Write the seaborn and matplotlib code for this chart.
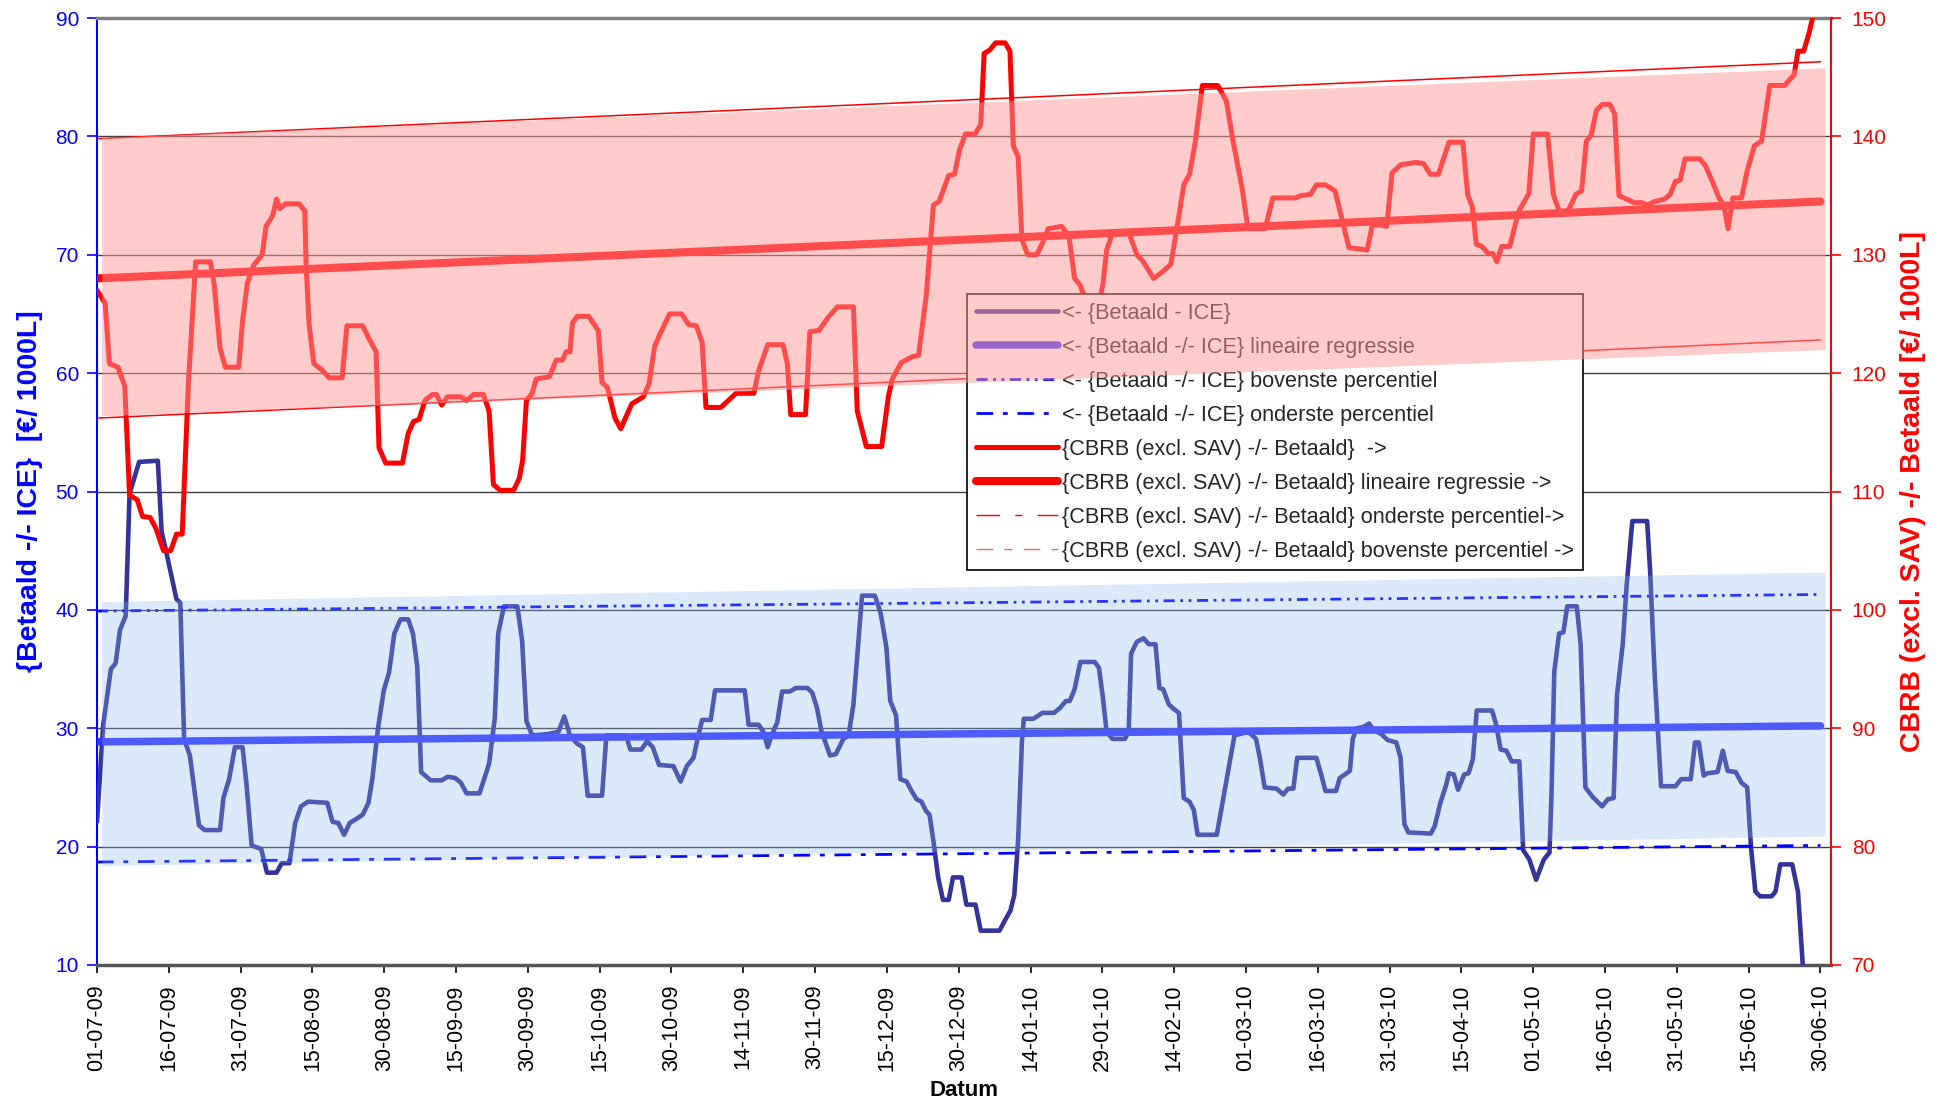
import matplotlib
matplotlib.use("Agg")
import matplotlib.pyplot as plt
from matplotlib.lines import Line2D
import seaborn as sns

# --------------------------------------------------------------
# Data (x = dag-index vanaf 01-07-09)
# --------------------------------------------------------------

tick_labels = [
    "01-07-09", "16-07-09", "31-07-09", "15-08-09", "30-08-09", "15-09-09",
    "30-09-09", "15-10-09", "30-10-09", "14-11-09", "30-11-09", "15-12-09",
    "30-12-09", "14-01-10", "29-01-10", "14-02-10", "01-03-10", "16-03-10",
    "31-03-10", "15-04-10", "01-05-10", "16-05-10", "31-05-10", "15-06-10",
    "30-06-10",
]

# {Betaald - ICE}  (linker as)
ice_dag = [
    0, 1.3, 2.9, 3.9, 4.8, 6.0, 6.8, 8.8, 12.7, 13.5, 14.3, 16.6, 17.4, 18.2,
    19.4, 21.3, 22.5, 25.7, 26.4, 27.6, 28.8, 30.4, 31.2, 32.3, 34.3, 35.5,
    37.5, 38.6, 40.2, 41.4, 42.6, 44.1, 48.1, 49.2, 50.4, 51.6, 52.8, 54.4,
    55.5, 56.7, 57.5, 58.7, 59.9, 61.0, 62.1, 63.4, 65.0, 66.0, 66.9, 67.7,
    69.7, 72.0, 73.2, 74.8, 76.0, 77.2, 79.9, 81.9, 83.1, 83.8, 85.0, 87.8,
    88.8, 89.7, 90.9, 94.1, 96.4, 97.6, 98.8, 100.3, 101.5, 102.5, 105.5,
    106.4, 110.5, 111.4, 113.7, 114.9, 116.1, 117.4, 120.4, 121.9, 123.2,
    124.6, 125.6, 126.4, 128.2, 129.1, 135.3, 136.1, 138.2, 139.2, 140.1,
    140.9, 142.1, 143.1, 144.7, 146.0, 148.4, 149.4, 150.4, 151.3, 153.1,
    154.3, 155.9, 157.0, 158.0, 159.0, 159.8, 162.5, 163.7, 164.9, 165.7,
    166.9, 167.8, 169.1, 170.0, 171.2, 172.2, 173.2, 173.9, 174.7, 175.7,
    176.7, 177.9, 178.8, 180.6, 181.6, 183.5, 184.6, 188.5, 189.7, 190.8,
    191.6, 192.4, 193.2, 193.6, 195.6, 197.5, 199.9, 201.1, 202.4, 203.2,
    204.2, 205.4, 208.4, 209.3, 210.1, 210.9, 212.1, 214.7, 215.5, 216.0,
    217.2, 218.6, 219.7, 221.1, 221.9, 222.7, 223.9, 224.7, 226.0, 227.0,
    228.2, 229.1, 229.9, 233.9, 235.7, 237.6, 240.5, 242.1, 242.9, 243.9,
    246.4, 247.8, 248.8, 249.9, 250.7, 254.7, 255.7, 256.6, 258.8, 259.6,
    260.7, 261.7, 262.3, 263.1, 264.5, 265.7, 266.8, 268.3, 269.6, 271.4,
    272.3, 273.1, 273.9, 278.6, 279.4, 280.6, 281.8, 282.4, 283.4, 284.3,
    285.6, 286.5, 287.4, 288.2, 291.4, 292.2, 293.2, 294.4, 295.5, 297.1,
    297.9, 299.2, 300.6, 302.2, 303.4, 303.8, 304.4, 305.4, 306.3, 307.1,
    309.1, 309.9, 310.9, 312.4, 314.4, 315.6, 316.8, 317.5, 318.7, 319.5,
    320.7, 323.8, 324.4, 325.4, 326.7, 329.7, 330.9, 332.9, 333.8, 334.6,
    335.6, 336.4, 338.5, 339.6, 340.6, 342.3, 343.5, 344.7, 345.5, 346.4,
    347.4, 349.8, 350.6, 351.6, 354.1, 355.3, 356.3, 357.0,
]
ice_waarde = [
    22.1, 30.3, 35.0, 35.5, 38.3, 39.5, 49.8, 52.5, 52.6, 46.6, 45.2, 40.9,
    40.6, 29.1, 27.7, 21.8, 21.4, 21.4, 24.1, 25.7, 28.4, 28.4, 25.4, 20.1,
    19.8, 17.8, 17.8, 18.6, 18.6, 22.0, 23.4, 23.8, 23.7, 22.1, 22.0, 21.0,
    22.0, 22.4, 22.7, 23.7, 25.7, 30.0, 33.2, 34.7, 38.0, 39.2, 39.2, 38.0,
    35.2, 26.3, 25.6, 25.6, 25.9, 25.8, 25.4, 24.5, 24.5, 27.0, 30.9, 38.0,
    40.3, 40.3, 37.4, 30.6, 29.4, 29.5, 29.7, 31.0, 29.4, 28.7, 28.4, 24.3,
    24.3, 29.4, 29.4, 28.2, 28.2, 28.9, 28.4, 26.9, 26.8, 25.5, 26.8, 27.5,
    29.4, 30.7, 30.7, 33.2, 33.2, 30.3, 30.3, 29.7, 28.4, 29.4, 30.5, 33.1,
    33.1, 33.4, 33.4, 33.0, 31.7, 29.8, 27.7, 27.8, 29.1, 29.4, 32.0, 37.1,
    41.2, 41.2, 39.7, 36.8, 32.3, 31.1, 25.7, 25.5, 24.8, 24.0, 23.8, 23.0,
    22.7, 20.5, 17.4, 15.5, 15.5, 17.4, 17.4, 15.1, 15.1, 12.9, 12.9, 13.8,
    14.6, 15.9, 20.5, 28.9, 30.8, 30.8, 31.3, 31.3, 31.7, 32.3, 32.3, 33.3,
    35.6, 35.6, 35.1, 32.6, 29.7, 29.1, 29.1, 29.7, 36.3, 37.3, 37.6, 37.1,
    37.1, 33.4, 33.3, 32.0, 31.7, 31.3, 24.1, 23.8, 23.1, 21.0, 21.0, 25.1,
    29.4, 29.7, 29.1, 27.5, 25.0, 24.9, 24.4, 24.9, 24.9, 27.5, 27.5, 26.1,
    24.7, 24.7, 25.8, 26.1, 26.4, 29.1, 30.0, 30.1, 30.4, 29.8, 29.5, 29.0,
    28.8, 27.5, 21.9, 21.2, 21.1, 21.7, 23.7, 25.2, 26.2, 26.1, 24.8, 26.1,
    26.2, 27.4, 31.5, 31.5, 30.4, 28.2, 28.1, 27.2, 27.2, 19.7, 18.9, 17.2,
    18.9, 19.5, 24.2, 34.8, 38.0, 38.1, 40.3, 40.3, 37.1, 25.0, 24.2, 23.4,
    24.0, 24.1, 32.8, 37.1, 42.0, 47.5, 47.5, 43.4, 34.3, 25.1, 25.1, 25.7,
    25.7, 28.8, 28.8, 26.0, 26.2, 26.3, 28.1, 26.4, 26.3, 25.4, 25.0, 19.9,
    16.2, 15.8, 15.8, 16.2, 18.5, 18.5, 16.2, 10.0, 7.0,
]

# {CBRB (excl. SAV) -/- Betaald}  (rechter as)
cbrb_dag = [
    0, 1.7, 2.6, 4.4, 5.8, 6.8, 8.4, 9.5, 11.1, 12.3, 13.9, 15.4, 16.6, 17.8,
    19.1, 20.6, 23.7, 24.5, 25.7, 26.8, 29.6, 30.4, 31.4, 32.7, 34.5, 35.3,
    36.7, 37.5, 38.2, 39.4, 42.2, 43.4, 43.7, 44.3, 45.3, 46.9, 48.5, 51.2,
    52.2, 55.5, 56.7, 58.3, 58.9, 60.3, 63.8, 65.0, 66.1, 67.3, 68.5, 70.1,
    70.9, 72.0, 73.2, 76.0, 77.2, 78.7, 80.7, 81.9, 82.8, 84.2, 87.0, 88.2,
    88.9, 89.7, 90.9, 91.7, 94.5, 95.9, 97.2, 98.0, 98.8, 99.3, 100.3, 102.7,
    104.7, 105.5, 106.6, 108.2, 109.4, 111.7, 112.9, 114.1, 115.3, 116.5,
    117.6, 119.6, 122.1, 123.6, 125.2, 126.4, 127.2, 130.3, 133.5, 137.2,
    138.2, 140.1, 143.3, 144.2, 144.9, 148.0, 148.9, 150.8, 152.7, 154.7,
    158.0, 158.8, 160.7, 163.9, 165.3, 166.1, 168.0, 170.4, 171.6, 173.2,
    174.7, 175.9, 177.9, 179.1, 180.2, 181.4, 183.4, 184.6, 185.3, 186.5,
    187.7, 189.7, 190.7, 191.4, 192.4, 193.2, 194.4, 196.3, 197.5, 198.7,
    201.5, 203.0, 204.2, 205.4, 207.5, 209.0, 210.1, 210.9, 212.1, 215.6,
    217.2, 218.4, 220.7, 222.7, 224.3, 225.8, 227.0, 228.2, 229.4, 230.9,
    234.1, 235.9, 237.2, 239.2, 240.4, 244.0, 245.6, 250.3, 251.5, 253.5,
    254.7, 256.6, 258.6, 259.8, 261.5, 265.3, 266.4, 268.0, 269.4, 270.5,
    272.3, 275.5, 277.1, 278.5, 280.2, 282.4, 285.3, 286.3, 287.3, 288.1,
    289.3, 290.6, 291.6, 292.4, 293.4, 295.1, 296.9, 299.1, 300.0, 303.0,
    304.2, 305.4, 307.3, 308.9, 310.1, 311.1, 312.1, 313.2, 314.4, 316.0,
    317.0, 317.9, 319.5, 321.1, 322.7, 323.8, 325.4, 327.4, 328.6, 329.7,
    330.7, 331.7, 334.8, 336.0, 337.6, 338.8, 339.8, 340.7, 341.7, 343.5,
    344.7, 346.2, 347.7, 349.4, 352.5, 354.5, 355.3, 356.5, 357.6, 358.4,
    359.5,
]
cbrb_waarde = [
    127.0, 125.9, 120.8, 120.5, 118.9, 109.7, 109.3, 107.9, 107.8, 106.9,
    105.0, 105.0, 106.4, 106.4, 119.2, 129.4, 129.4, 127.4, 122.1, 120.5,
    120.5, 124.4, 127.6, 129.1, 130.0, 132.4, 133.3, 134.7, 133.9, 134.3,
    134.3, 133.7, 128.9, 124.1, 120.8, 120.3, 119.6, 119.6, 124.0, 124.0,
    123.0, 121.8, 113.7, 112.4, 112.4, 114.9, 115.9, 116.1, 117.7, 118.2,
    118.2, 117.3, 118.0, 118.0, 117.7, 118.2, 118.2, 116.8, 110.6, 110.1,
    110.1, 111.1, 112.6, 117.7, 118.3, 119.5, 119.7, 121.1, 121.1, 121.8,
    121.8, 124.2, 124.8, 124.8, 123.6, 119.2, 118.8, 116.2, 115.3, 117.4,
    117.7, 118.0, 119.1, 122.3, 123.3, 125.0, 125.0, 124.1, 124.0, 122.6,
    117.1, 117.1, 118.3, 118.3, 120.2, 122.4, 122.4, 120.8, 116.5, 116.5,
    123.5, 123.6, 124.7, 125.6, 125.6, 116.8, 113.8, 113.8, 118.0, 119.5,
    120.9, 121.4, 121.5, 126.5, 134.2, 134.5, 136.7, 136.8, 138.9, 140.2,
    140.2, 141.0, 147.0, 147.3, 147.9, 147.9, 147.2, 139.2, 138.3, 131.3,
    130.0, 130.0, 131.0, 132.2, 132.4, 131.6, 128.0, 127.4, 125.0, 125.0,
    127.5, 130.4, 131.8, 131.8, 130.0, 129.5, 128.0, 128.6, 129.2, 132.8,
    135.9, 136.8, 139.5, 144.3, 144.3, 143.0, 139.8, 135.6, 132.2, 132.2,
    134.8, 134.8, 135.0, 135.1, 135.9, 135.9, 135.4, 133.4, 130.6, 130.4,
    132.5, 132.5, 132.4, 136.9, 137.6, 137.8, 137.7, 136.8, 136.8, 139.5,
    139.5, 135.1, 134.0, 130.9, 130.7, 130.1, 130.1, 129.4, 130.7, 130.7,
    133.6, 135.2, 140.2, 140.2, 135.1, 133.7, 133.7, 135.1, 135.4, 139.6,
    140.1, 142.2, 142.7, 142.7, 141.9, 135.0, 134.7, 134.4, 134.4, 134.2,
    134.5, 134.7, 135.1, 136.2, 136.3, 138.1, 138.1, 137.5, 136.0, 134.8,
    134.2, 132.2, 134.8, 134.8, 137.1, 139.2, 139.6, 144.3, 144.3, 145.2,
    147.2, 147.2, 148.7, 150.1, 153.0,
]

# regressie- en percentiellijnen (begin- en eindpunt)
trend_dag = [0, 360]
ice_regressie = [28.85, 30.2]
ice_boven = [39.9, 41.3]
ice_onder = [18.7, 20.1]
cbrb_regressie = [128.0, 134.5]
cbrb_boven = [139.8, 146.3]
cbrb_onder = [116.2, 122.8]

# gearceerde banden
band_dag = [1, 361]
ice_band_boven = [40.7, 43.2]
ice_band_onder = [18.4, 20.9]
cbrb_band_boven = [139.9, 145.8]
cbrb_band_onder = [116.4, 122.0]

# --------------------------------------------------------------
# Plot
# --------------------------------------------------------------

sns.set_theme(style="white")
plt.rcParams["font.family"] = ["Liberation Sans", "DejaVu Sans"]

fig = plt.figure(figsize=(19.49, 11.03), dpi=100)
ax1 = fig.add_axes([97 / 1949, 1 - 965 / 1103, 1734 / 1949, 947 / 1103])
ax2 = ax1.twinx()

BLAUW_LIJN = "#333399"
BLAUW_REG = "#3333ff"
BLAUW = "#0000ff"
ROOD = "#ff0000"

# left axis: Betaald - ICE
sns.lineplot(x=ice_dag, y=ice_waarde, ax=ax1, color=BLAUW_LIJN, lw=3.3,
             estimator=None, errorbar=None, zorder=3)
sns.lineplot(x=trend_dag, y=ice_regressie, ax=ax1, color=BLAUW_REG, lw=5.4,
             estimator=None, errorbar=None, zorder=3)
sns.lineplot(x=trend_dag, y=ice_boven, ax=ax1, color=BLAUW, lw=2,
             linestyle=(0, (4, 2, 1, 2, 1, 2)), estimator=None, errorbar=None, zorder=3)
sns.lineplot(x=trend_dag, y=ice_onder, ax=ax1, color=BLAUW, lw=2,
             linestyle=(0, (6, 3.5, 1.75, 3.5)), estimator=None, errorbar=None, zorder=3)
ax1.fill_between(band_dag, ice_band_onder, ice_band_boven, color="#8ab8f0",
                 alpha=0.3, lw=0, zorder=4)

# right axis: CBRB -/- Betaald
sns.lineplot(x=cbrb_dag, y=cbrb_waarde, ax=ax2, color=ROOD, lw=3.6,
             estimator=None, errorbar=None, zorder=3)
sns.lineplot(x=trend_dag, y=cbrb_regressie, ax=ax2, color=ROOD, lw=5.8,
             estimator=None, errorbar=None, zorder=3)
sns.lineplot(x=trend_dag, y=cbrb_boven, ax=ax2, color=ROOD, lw=1.1,
             estimator=None, errorbar=None, zorder=3)
sns.lineplot(x=trend_dag, y=cbrb_onder, ax=ax2, color=ROOD, lw=1.1,
             estimator=None, errorbar=None, zorder=3)

handles = [
    Line2D([], [], color=BLAUW_LIJN, lw=3.3),
    Line2D([], [], color=BLAUW_REG, lw=5.4, solid_capstyle="round"),
    Line2D([], [], color=BLAUW, lw=2, linestyle=(0, (4, 2, 1, 2, 1, 2))),
    Line2D([], [], color=BLAUW, lw=2, linestyle=(0, (6, 3.5, 1.75, 3.5))),
    Line2D([], [], color=ROOD, lw=3.6),
    Line2D([], [], color=ROOD, lw=5.8, solid_capstyle="round"),
    Line2D([], [], color=ROOD, lw=1, linestyle=(0, (17, 11, 5, 11))),
    Line2D([], [], color="#ff6666", lw=1, linestyle=(0, (12, 8, 6, 8))),
]
labels = [
    "<- {Betaald - ICE}",
    "<- {Betaald -/- ICE} lineaire regressie",
    "<- {Betaald -/- ICE} bovenste percentiel",
    "<- {Betaald -/- ICE} onderste percentiel",
    "{CBRB (excl. SAV) -/- Betaald}  ->",
    "{CBRB (excl. SAV) -/- Betaald} lineaire regressie ->",
    "{CBRB (excl. SAV) -/- Betaald} onderste percentiel->",
    "{CBRB (excl. SAV) -/- Betaald} bovenste percentiel ->",
]
leg = ax2.legend(handles, labels, loc="upper left", bbox_to_anchor=(0.5017, 0.7086),
                 borderaxespad=0, fontsize=15.6, frameon=True, fancybox=False,
                 framealpha=1, edgecolor="black", borderpad=0.4, labelspacing=0.6,
                 handlelength=3.8, handletextpad=0.2)
leg.get_frame().set_linewidth(1.2)
leg.set_zorder(5)

# pink band drawn over everything, incl. legend
ax2.fill_between(band_dag, cbrb_band_onder, cbrb_band_boven, color="#ff9999",
                 alpha=0.5, lw=0, zorder=6)

# axes
ax1.set_xlim(0, 362.2)
ax1.set_ylim(10, 90)
ax2.set_ylim(70, 150)
ax1.set_xticks(range(0, 361, 15))
ax1.set_xticklabels(tick_labels, rotation=90)
ax1.set_yticks(range(10, 91, 10))
ax2.set_yticks(range(70, 151, 10))

ax1.set_axisbelow(True)
ax1.yaxis.grid(True, color="#404040", lw=1)
ax1.xaxis.grid(False)
ax2.grid(False)

ax1.tick_params(axis="y", colors=BLAUW, labelsize=15, length=7, width=1.2,
                pad=6, left=True, direction="out")
ax1.tick_params(axis="x", colors="black", labelsize=15.5, length=6, width=1.2,
                pad=8, bottom=True, direction="out")
ax2.tick_params(axis="y", colors=ROOD, labelsize=15, length=7, width=1.2,
                pad=8, right=True, direction="out")

for sp in ["left", "bottom", "top"]:
    ax2.spines[sp].set_visible(False)
ax1.spines["right"].set_visible(False)
ax1.spines["left"].set_color(BLAUW)
ax1.spines["left"].set_linewidth(1.5)
ax1.spines["bottom"].set_color("#555555")
ax1.spines["bottom"].set_linewidth(2.5)
ax1.spines["top"].set_color("#808080")
ax1.spines["top"].set_linewidth(2.5)
ax2.spines["right"].set_color(ROOD)
ax2.spines["right"].set_linewidth(1.5)

ax1.set_xlabel("Datum", fontsize=16, fontweight="bold", color="black")
ax1.xaxis.set_label_coords(0.5, -0.121)
ax1.set_ylabel("{Betaald -/- ICE}  [€/ 1000L]", fontsize=20.5, fontweight="bold",
               color=BLAUW)
ax1.yaxis.set_label_coords(-0.031, 0.5)
ax2.set_ylabel("CBRB (excl. SAV) -/- Betaald [€/ 1000L]", fontsize=20.5,
               fontweight="bold", color=ROOD)
ax2.yaxis.set_label_coords(1.04, 0.5)

fig.savefig("out.png", dpi=100, facecolor="white")
